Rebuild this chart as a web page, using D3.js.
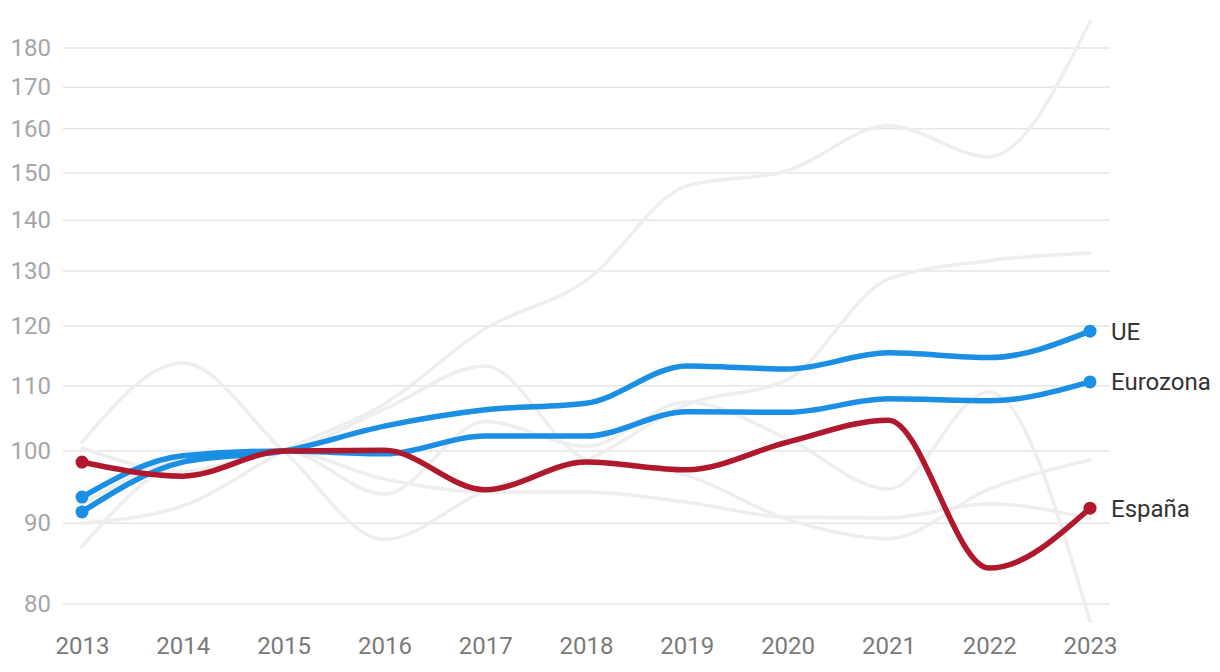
<!DOCTYPE html>
<html>
<head>
<meta charset="utf-8">
<script src="https://cdn.jsdelivr.net/npm/d3@7"></script>
<style>
  html, body { margin: 0; padding: 0; background: #fff; }
  svg { display: block; font-family: Roboto, "Noto Sans", sans-serif; }
</style>
</head>
<body>
<svg id="chart" width="1220" height="672"></svg>
<script>
const years = [2013, 2014, 2015, 2016, 2017, 2018, 2019, 2020, 2021, 2022, 2023];
const yTicks = [80, 90, 100, 110, 120, 130, 140, 150, 160, 170, 180];

const ue       = [91.5, 98.4, 100, 103.7, 106.2, 107.2, 113.2, 112.7, 115.4, 114.6, 119.1];
const eurozona = [93.5, 99.3, 100, 99.6, 102.2, 102.2, 105.9, 105.8, 107.9, 107.6, 110.6];
const espana   = [98.4, 96.4, 100, 100.1, 94.5, 98.4, 97.3, 101.3, 104.6, 84.3, 92.0];

const gray1 = [90.0, 92.3, 100, 107.1, 119.5, 128.2, 147.2, 150.5, 160.7, 153.6, 187.0];
const gray2 = [101.3, 113.7, 100, 87.9, 94.4, 98.6, 107.0, 111.0, 128.5, 132.0, 133.5];
const gray3 = [92.5, 98.8, 100, 106.3, 113.2, 98.8, 96.5, 90.5, 88.0, 94.6, 98.7];
const gray4 = [87.0, 98.4, 100, 93.9, 104.4, 100.7, 107.4, 101.8, 94.6, 109.0, 78.0];
const gray5 = [100.4, 97.1, 100, 96.0, 94.2, 94.2, 92.8, 90.8, 90.7, 92.6, 90.6];

const grayValues = [gray1, gray2, gray3, gray4, gray5];
const mainNames = ["UE", "Eurozona", "España"];
const mainValues = [ue, eurozona, espana];
const mainColors = ["#1a8fe3", "#1a8fe3", "#b0182d"];

const svg = d3.select("#chart");

const x = d3.scalePoint().domain(years).range([82, 1090]);
const y = d3.scaleLog().domain([80, 180]).range([604, 48]);

// grid
const grid = svg.append("g");
grid.selectAll("line").data(yTicks).join("line")
  .attr("x1", 63).attr("x2", 1110)
  .attr("y1", d => y(d)).attr("y2", d => y(d))
  .attr("stroke", "#e6e6e6").attr("stroke-width", 1.5);

// y axis labels
const yAxis = d3.axisLeft(y).tickValues(yTicks).tickFormat(d3.format("d")).tickSize(0).tickPadding(0);
const gy = svg.append("g").attr("transform", "translate(51,0)").call(yAxis);
gy.select(".domain").remove();
gy.selectAll("text").attr("fill", "#a6a6a6").style("font-size", "24px").style("font-family", "Roboto, sans-serif");

// x axis labels
const xAxis = d3.axisBottom(x).tickSize(0).tickPadding(0).tickFormat(d => String(d));
const gx = svg.append("g").attr("transform", "translate(0,637)").call(xAxis);
gx.select(".domain").remove();
gx.selectAll("text").attr("fill", "#7a7a7a").style("font-size", "24px").style("font-family", "Roboto, sans-serif");

const line = d3.line()
  .x((d, i) => x(years[i]))
  .y(d => y(d))
  .curve(d3.curveMonotoneX);

// gray lines
svg.append("g").selectAll("path").data(grayValues).join("path")
  .attr("d", d => line(d))
  .attr("fill", "none")
  .attr("stroke", "#eeeeee")
  .attr("stroke-width", 3.5)
  .attr("stroke-linecap", "round");

// main lines
const mg = svg.append("g");
mainValues.forEach((vals, k) => {
  mg.append("path")
    .attr("d", line(vals))
    .attr("fill", "none")
    .attr("stroke", mainColors[k])
    .attr("stroke-width", 5.5)
    .attr("stroke-linecap", "round");
  [0, vals.length - 1].forEach(i => {
    mg.append("circle")
      .attr("cx", x(years[i])).attr("cy", y(vals[i]))
      .attr("r", 6.5).attr("fill", mainColors[k]);
  });
  mg.append("text")
    .attr("x", x(years[years.length - 1]) + 21)
    .attr("y", y(vals[vals.length - 1]))
    .attr("dy", "0.35em")
    .attr("fill", "#333")
    .style("font-size", "24px")
    .text(mainNames[k]);
});
</script>
</body>
</html>
